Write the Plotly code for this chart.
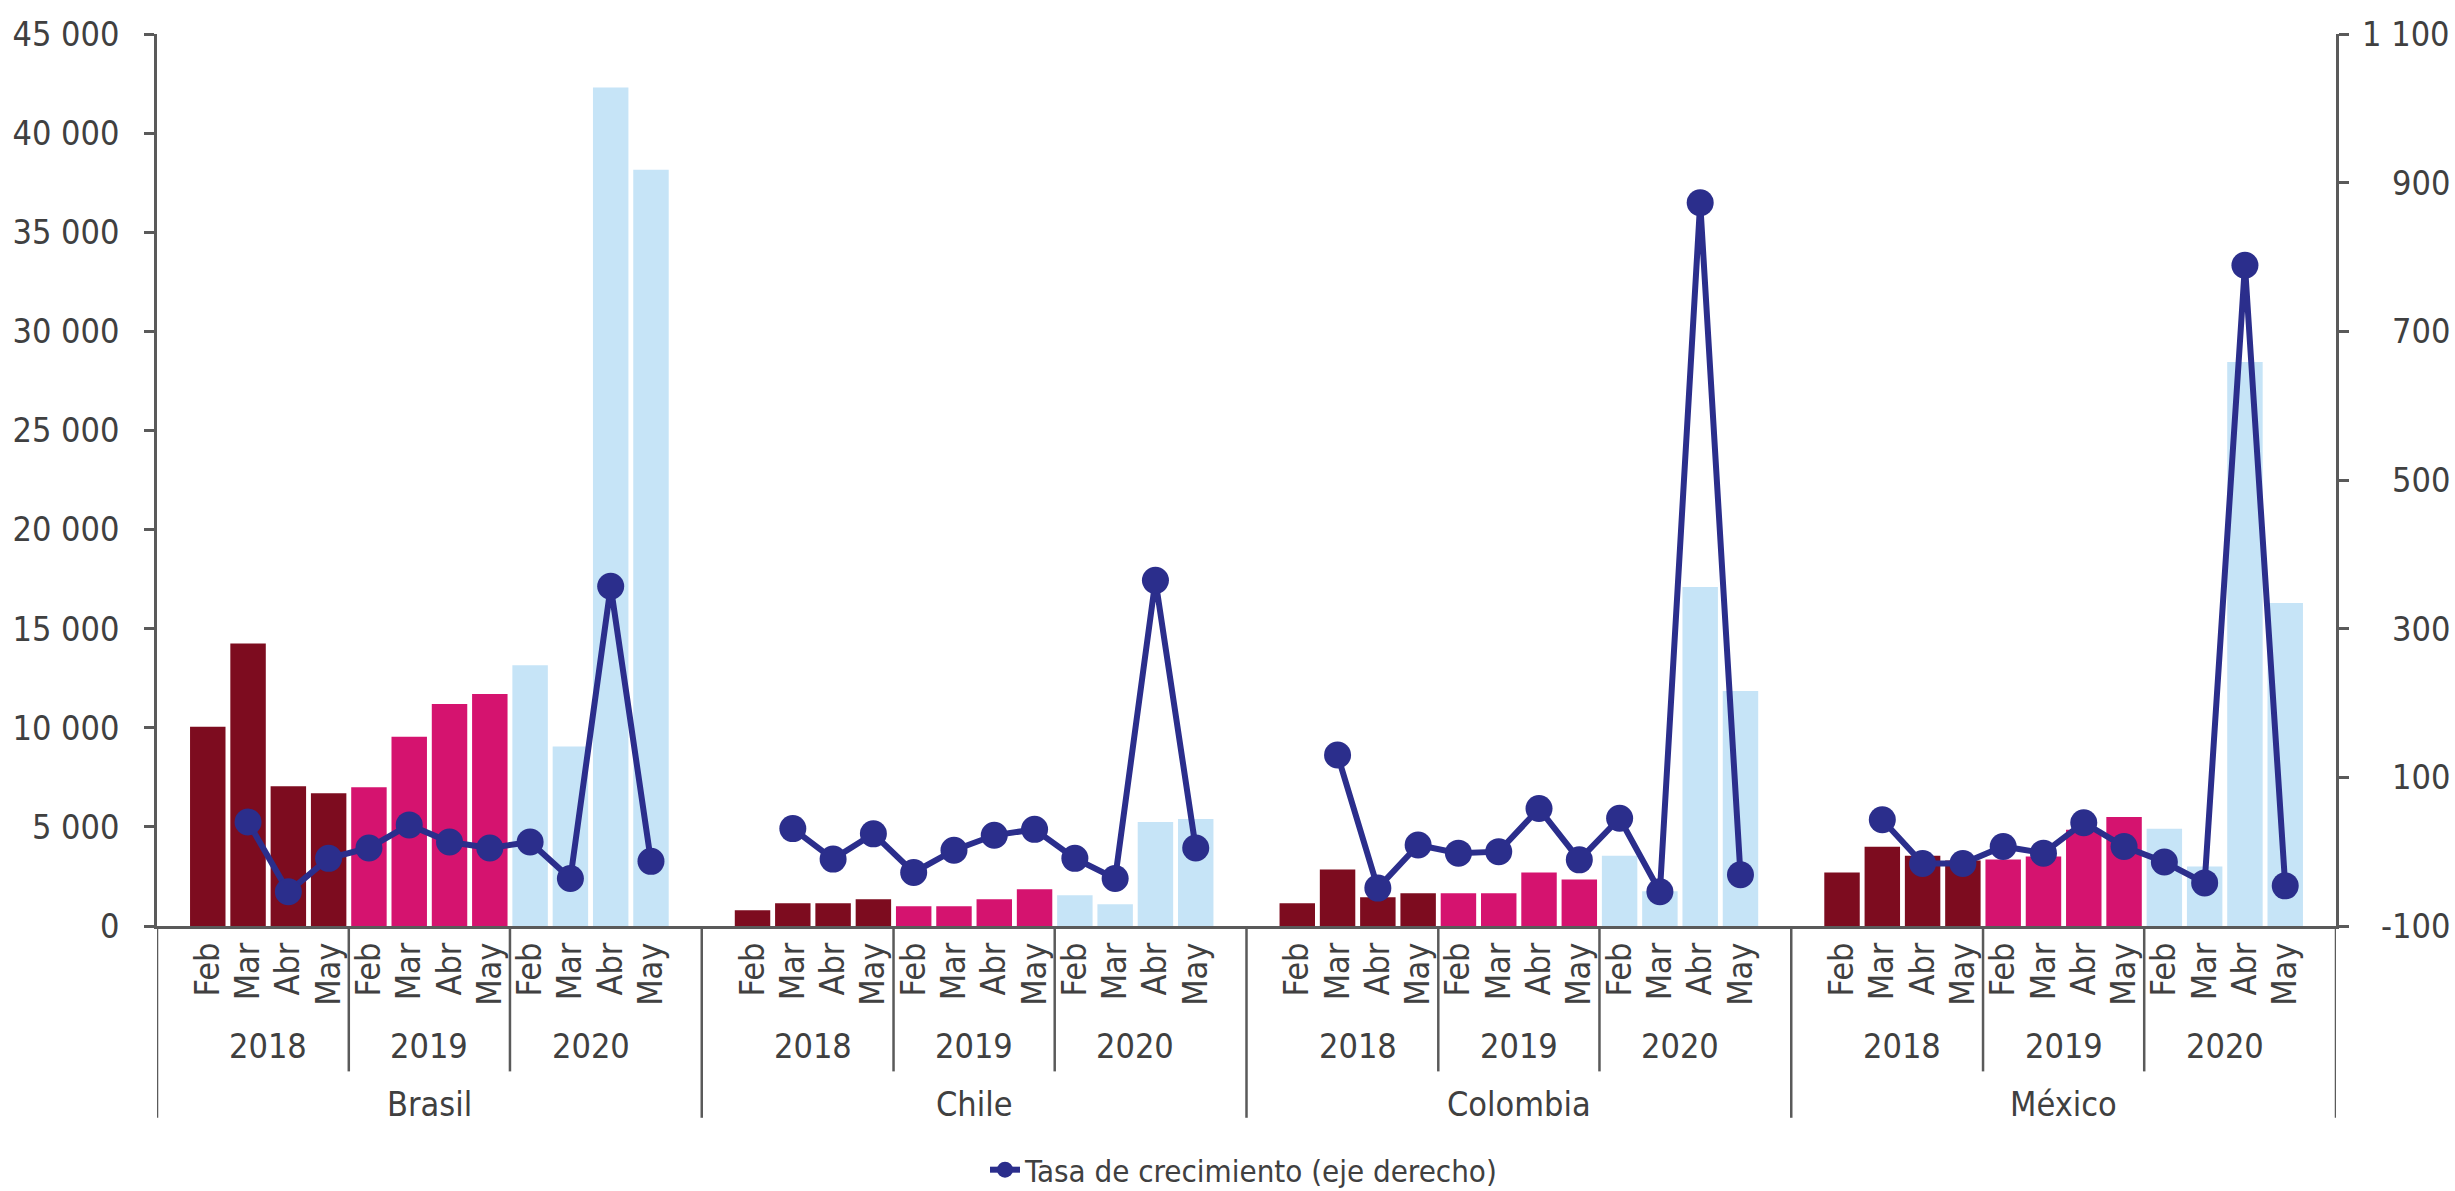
import plotly.graph_objects as go

# ---------------- data ----------------
countries = ["Brasil", "Chile", "Colombia", "México"]
years = ["2018", "2019", "2020"]
months = ["Feb", "Mar", "Abr", "May"]

brasil_2018 = [10050, 14250, 7050, 6700]
brasil_2019 = [7000, 9550, 11200, 11700]
brasil_2020 = [13150, 9050, 42300, 38150]
chile_2018 = [800, 1150, 1150, 1350]
chile_2019 = [1000, 1000, 1350, 1850]
chile_2020 = [1550, 1100, 5250, 5400]
colombia_2018 = [1150, 2850, 1450, 1650]
colombia_2019 = [1650, 1650, 2700, 2350]
colombia_2020 = [3550, 1750, 17100, 11850]
mexico_2018 = [2700, 4000, 3550, 3300]
mexico_2019 = [3350, 3500, 4850, 5500]
mexico_2020 = [4900, 3000, 28450, 16300]

brasil_tasa = [None, 40, -54, -9, 5, 36, 13, 5, 13, -36, 357, -13]
chile_tasa = [None, 31, -10, 24, -28, 2, 22, 30, -9, -36, 365, 5]
colombia_tasa = [None, 130, -49, 9, -2, 0, 58, -11, 45, -54, 873, -31]
mexico_tasa = [None, 43, -16, -16, 7, -2, 39, 7, -14, -42, 789, -46]

right_ticks = [-100, 100, 300, 500, 700, 900, 1100]

values = {
    "Brasil": [brasil_2018, brasil_2019, brasil_2020],
    "Chile": [chile_2018, chile_2019, chile_2020],
    "Colombia": [colombia_2018, colombia_2019, colombia_2020],
    "México": [mexico_2018, mexico_2019, mexico_2020],
}
tasas = {
    "Brasil": brasil_tasa,
    "Chile": chile_tasa,
    "Colombia": colombia_tasa,
    "México": mexico_tasa,
}

# ---------------- styling ----------------
year_colors = ["#7d0c1f", "#d5136f", "#c6e4f7"]
line_color = "#2b2e8c"
text_color = "#404040"
axis_color = "#5a5a5a"
FONT = "Liberation Sans Narrow, DejaVu Sans Condensed, Roboto Condensed, Arial Narrow, sans-serif"
FS = 34

SPAN = 13.52      # slots per country block
OFFSET = 1.26     # slot offset of first bar in a block


def pos(ci, yi, mi):
    return ci * SPAN + OFFSET + yi * 4 + mi


fig = go.Figure()

for ci, c in enumerate(countries):
    for yi, yr in enumerate(years):
        fig.add_trace(go.Bar(
            x=[pos(ci, yi, mi) for mi in range(4)],
            y=values[c][yi],
            width=0.88,
            marker=dict(color=year_colors[yi], line=dict(width=0)),
            showlegend=False,
            hoverinfo="skip",
        ))

line_x, line_y = [], []
for ci, c in enumerate(countries):
    for k in range(12):
        line_x.append(pos(ci, k // 4, k % 4))
        line_y.append(tasas[c][k])

fig.add_trace(go.Scatter(
    x=line_x, y=line_y, yaxis="y2", mode="lines+markers",
    name="Tasa de crecimiento (eje derecho)",
    line=dict(color=line_color, width=6),
    marker=dict(color=line_color, size=27),
    connectgaps=False,
))

tickvals = [pos(ci, yi, mi) for ci in range(4) for yi in range(3) for mi in range(4)]
ticktext = [months[mi] for ci in range(4) for yi in range(3) for mi in range(4)]

shapes = []
annotations = []
for ci, c in enumerate(countries + [None]):
    shapes.append(dict(type="line", xref="x", yref="paper", x0=ci * SPAN, x1=ci * SPAN,
                       y0=0, y1=-0.215, line=dict(color=axis_color, width=2.5)))
    if c is None:
        continue
    for yi in (1, 2):
        xd = ci * SPAN + OFFSET + yi * 4 - 0.5
        shapes.append(dict(type="line", xref="x", yref="paper", x0=xd, x1=xd,
                           y0=0, y1=-0.163, line=dict(color=axis_color, width=2.5)))
    for yi, yr in enumerate(years):
        annotations.append(dict(x=ci * SPAN + OFFSET + yi * 4 + 1.5, y=-0.134, xref="x", yref="paper",
                                text=yr, showarrow=False, font=dict(size=FS, color=text_color, family=FONT),
                                yanchor="middle"))
    annotations.append(dict(x=ci * SPAN + OFFSET + 5.5, y=-0.199, xref="x", yref="paper",
                            text=c, showarrow=False, font=dict(size=FS, color=text_color, family=FONT),
                            yanchor="middle"))

# right-axis tick labels, right-aligned as in the original
for v in right_ticks:
    annotations.append(dict(x=1.0533, y=v, xref="paper", yref="y2", xanchor="right", yanchor="middle",
                            text=f"{v:,}".replace(",", " "), showarrow=False,
                            font=dict(size=FS, color=text_color, family=FONT)))

fig.update_layout(
    width=2455, height=1191,
    margin=dict(l=157, r=119, t=34, b=265),
    plot_bgcolor="white", paper_bgcolor="white",
    font=dict(family=FONT, size=FS, color=text_color),
    separators=". ",
    barmode="overlay",
    shapes=shapes,
    annotations=annotations,
    xaxis=dict(
        range=[0, 4 * SPAN], tickmode="array", tickvals=tickvals, ticktext=ticktext,
        tickangle=-90, ticks="", showgrid=False, zeroline=False, automargin=False,
        showline=True, linecolor=axis_color, linewidth=3,
        tickfont=dict(size=FS, color=text_color),
    ),
    yaxis=dict(
        range=[0, 45000], dtick=5000, tick0=0, tickformat=",d", automargin=False,
        showgrid=False, zeroline=False, showline=True, linecolor=axis_color, linewidth=2.5,
        ticks="outside", ticklen=10, tickwidth=2.5, tickcolor=axis_color,
        tickfont=dict(size=FS, color=text_color), ticklabelstandoff=18,
    ),
    yaxis2=dict(
        overlaying="y", side="right", range=[-100, 1100], tickmode="array", tickvals=right_ticks,
        showticklabels=False, automargin=False,
        showgrid=False, zeroline=False, showline=True, linecolor=axis_color, linewidth=2.5,
        ticks="outside", ticklen=10, tickwidth=2.5, tickcolor=axis_color,
    ),
    legend=dict(orientation="h", x=0.38, xanchor="left", xref="paper",
                y=0.0176, yanchor="middle", yref="container",
                font=dict(size=31, color=text_color), bgcolor="rgba(0,0,0,0)"),
    showlegend=True,
)

fig.write_html("out.html", post_script="document.body.style.margin='0';",
               config={"displayModeBar": False})
